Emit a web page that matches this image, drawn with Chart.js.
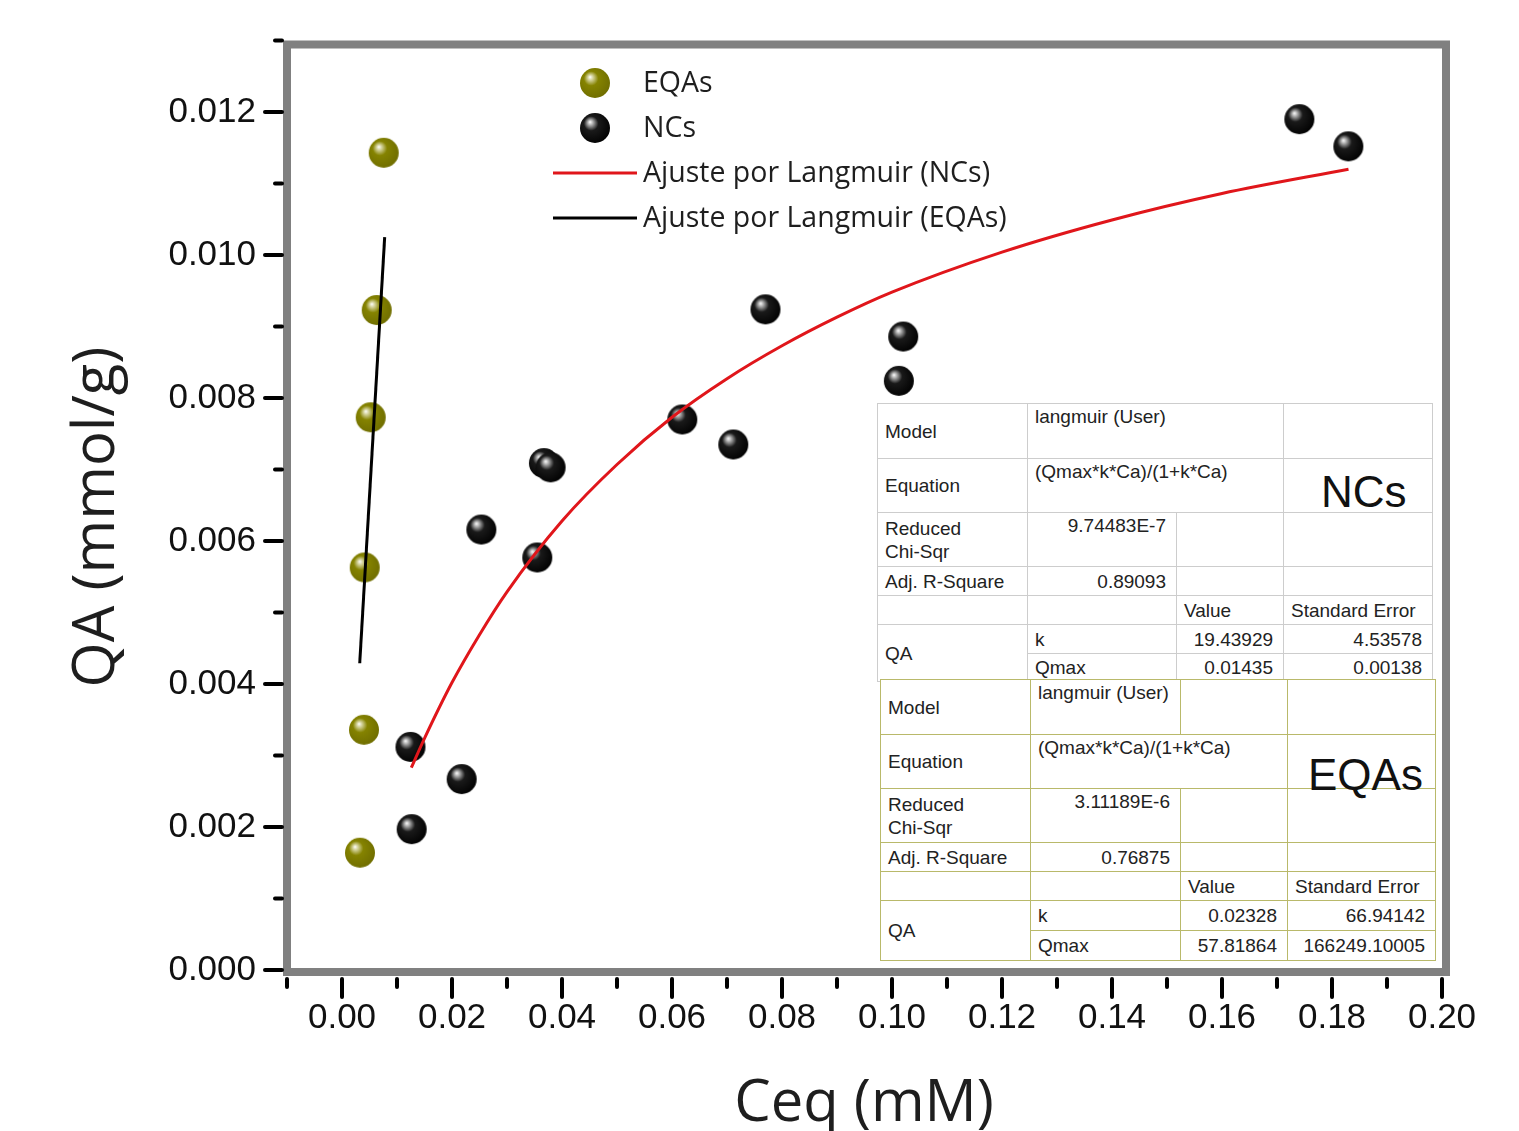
<!DOCTYPE html>
<html>
<head>
<meta charset="utf-8">
<script src="https://cdn.jsdelivr.net/npm/chart.js@4.4.1/dist/chart.umd.min.js"></script>
<style>
  body { margin: 0; background: #fff; }
  #wrap { position: relative; width: 1519px; height: 1131px; overflow: hidden; }
  .fit { position: absolute; border-collapse: collapse; table-layout: fixed; background: #fff;
         font-family: "Liberation Sans", Arial, sans-serif; font-size: 19px; color: #222; }
  .fit td { padding: 0 7px; line-height: 23px; vertical-align: middle; white-space: nowrap; overflow: visible; }
  .nc td { border: 1.5px solid #cdcdcd; }
  .eq td { border: 1.5px solid #b9b96a; }
  .fit td.t { vertical-align: top; padding-top: 1px; }
  .fit td.r { text-align: right; padding-right: 10px; }
  .big { position: absolute; font-family: "Liberation Sans", Arial, sans-serif; font-size: 44px;
         line-height: 44px; color: #111; }
</style>
</head>
<body>
<div id="wrap">
  <canvas id="isoChart"></canvas>

  <table class="fit nc" style="left:877px; top:403px; width:555px;">
    <colgroup><col style="width:150px"><col style="width:149px"><col style="width:107px"><col style="width:149px"></colgroup>
    <tr style="height:55px"><td>Model</td><td class="t" colspan="2">langmuir (User)</td><td></td></tr>
    <tr style="height:54px"><td>Equation</td><td class="t" colspan="2">(Qmax*k*Ca)/(1+k*Ca)</td><td></td></tr>
    <tr style="height:54px"><td>Reduced<br>Chi-Sqr</td><td class="t r">9.74483E-7</td><td></td><td></td></tr>
    <tr style="height:29px"><td>Adj. R-Square</td><td class="r">0.89093</td><td></td><td></td></tr>
    <tr style="height:29px"><td></td><td></td><td>Value</td><td>Standard Error</td></tr>
    <tr style="height:29px"><td rowspan="2">QA</td><td>k</td><td class="r">19.43929</td><td class="r">4.53578</td></tr>
    <tr style="height:28px"><td>Qmax</td><td class="r">0.01435</td><td class="r">0.00138</td></tr>
  </table>

  <table class="fit eq" style="left:880px; top:679px; width:555px;">
    <colgroup><col style="width:150px"><col style="width:150px"><col style="width:107px"><col style="width:148px"></colgroup>
    <tr style="height:55px"><td>Model</td><td class="t">langmuir (User)</td><td></td><td></td></tr>
    <tr style="height:54px"><td>Equation</td><td class="t" colspan="2">(Qmax*k*Ca)/(1+k*Ca)</td><td></td></tr>
    <tr style="height:54px"><td>Reduced<br>Chi-Sqr</td><td class="t r">3.11189E-6</td><td></td><td></td></tr>
    <tr style="height:29px"><td>Adj. R-Square</td><td class="r">0.76875</td><td></td><td></td></tr>
    <tr style="height:29px"><td></td><td></td><td>Value</td><td>Standard Error</td></tr>
    <tr style="height:30px"><td rowspan="2">QA</td><td>k</td><td class="r">0.02328</td><td class="r">66.94142</td></tr>
    <tr style="height:30px"><td>Qmax</td><td class="r">57.81864</td><td class="r">166249.10005</td></tr>
  </table>

  <div class="big" style="left:1321px; top:470px;">NCs</div>
  <div class="big" style="left:1308px; top:753px;">EQAs</div>
</div>

<script>
// EQAs (olive spheres)
const eqaX = [0.00758, 0.00631, 0.00522, 0.00413, 0.00400, 0.00327];
const eqaY = [0.01143, 0.00923, 0.00773, 0.00563, 0.00336, 0.00164];

// NCs (black spheres)
const ncX = [0.01245, 0.01267, 0.02176, 0.02534, 0.03551, 0.03671, 0.03793, 0.06187,
             0.07114, 0.07700, 0.10124, 0.10204, 0.17406, 0.18297];
const ncY = [0.00312, 0.00197, 0.00267, 0.00616, 0.00577, 0.00709, 0.00703, 0.00770,
             0.00735, 0.00924, 0.00824, 0.00886, 0.01190, 0.01152];

// Langmuir fit curves
const fitNcX = [0.0126, 0.015, 0.02, 0.025, 0.03, 0.04, 0.05, 0.06, 0.07, 0.08,
                0.09, 0.10, 0.12, 0.14, 0.16, 0.183];
const fitNcY = [0.00283, 0.00324, 0.00402, 0.00469, 0.00529, 0.00628, 0.00707, 0.00773,
                0.00827, 0.00873, 0.00913, 0.00948, 0.01004, 0.01049, 0.01086, 0.01120];
const fitEqaX = [0.00322, 0.00776];
const fitEqaY = [0.00429, 0.01025];

const xTicks = [0, 0.02, 0.04, 0.06, 0.08, 0.10, 0.12, 0.14, 0.16, 0.18, 0.20];
const xMinor = [-0.01, 0.01, 0.03, 0.05, 0.07, 0.09, 0.11, 0.13, 0.15, 0.17, 0.19];
const yTicks = [0, 0.002, 0.004, 0.006, 0.008, 0.010, 0.012];
const yMinor = [0.001, 0.003, 0.005, 0.007, 0.009, 0.011, 0.013];

const legendLabels = ["EQAs", "NCs", "Ajuste por Langmuir (NCs)", "Ajuste por Langmuir (EQAs)"];

const pairs = (xs, ys) => xs.map((x, i) => ({ x: x, y: ys[i] }));

// shiny ball marker
const makeBall = (light, base, dark) => {
  const c = document.createElement("canvas");
  c.width = 32;
  c.height = 32;
  const g = c.getContext("2d");
  const grad = g.createRadialGradient(11, 10, 0, 14, 14, 19);
  grad.addColorStop(0, "#ffffff");
  grad.addColorStop(0.12, light);
  grad.addColorStop(0.38, base);
  grad.addColorStop(1, dark);
  g.fillStyle = grad;
  g.beginPath();
  g.arc(16, 16, 15, 0, Math.PI * 2);
  g.fill();
  return c;
};
const oliveBall = makeBall("#d9d8a6", "#858300", "#6e6c00");
const blackBall = makeBall("#b8b8b8", "#1a1a1a", "#000000");

const frameAndLegend = {
  id: "frameAndLegend",
  afterDraw(chart) {
    const ctx = chart.ctx;
    const a = chart.chartArea;
    const xs = chart.scales.x;
    const ys = chart.scales.y;
    ctx.save();

    // grey frame
    ctx.strokeStyle = "#808080";
    ctx.lineWidth = 8;
    ctx.strokeRect(a.left, a.top + 4, a.right - a.left + 4, a.bottom - a.top - 2);

    // ticks
    ctx.strokeStyle = "#000";
    ctx.lineWidth = 4;
    ctx.lineCap = "round";
    const tick = (x1, y1, x2, y2) => {
      ctx.beginPath();
      ctx.moveTo(x1, y1);
      ctx.lineTo(x2, y2);
      ctx.stroke();
    };
    yTicks.forEach((v) => { const p = ys.getPixelForValue(v); tick(a.left - 22, p, a.left - 5, p); });
    yMinor.forEach((v) => { const p = ys.getPixelForValue(v); tick(a.left - 12, p, a.left - 5, p); });
    xTicks.forEach((v) => { const p = xs.getPixelForValue(v); tick(p, a.bottom + 9, p, a.bottom + 27); });
    xMinor.forEach((v) => { const p = xs.getPixelForValue(v); tick(p, a.bottom + 9, p, a.bottom + 17); });

    // legend
    ctx.lineCap = "butt";
    ctx.font = '28.5px "Open Sans"';
    ctx.fillStyle = "#1e1e1e";
    ctx.textBaseline = "middle";
    ctx.textAlign = "left";
    const rows = [83, 128, 173, 218];
    ctx.drawImage(oliveBall, 595 - 16, rows[0] - 16);
    ctx.drawImage(blackBall, 595 - 16, rows[1] - 16);
    ctx.lineWidth = 3;
    ctx.strokeStyle = chart.data.datasets[0].borderColor;
    tick(553, rows[2], 637, rows[2]);
    ctx.strokeStyle = chart.data.datasets[1].borderColor;
    tick(553, rows[3], 637, rows[3]);
    legendLabels.forEach((t, i) => ctx.fillText(t, 643, rows[i] + 1));

    // axis titles
    ctx.font = '58px "Open Sans"';
    ctx.fillStyle = "#1e1e1e";
    ctx.textAlign = "center";
    ctx.fillText("Ceq (mM)", 864, 1104);
    ctx.translate(97, 517);
    ctx.rotate(-Math.PI / 2);
    ctx.fillText("QA (mmol/g)", 0, 0);
    ctx.restore();
  },
};

new Chart("isoChart", {
  type: "scatter",
  data: {
    datasets: [
      {
        label: legendLabels[2],
        data: pairs(fitNcX, fitNcY),
        showLine: true,
        borderColor: "#e0161b",
        borderWidth: 3,
        pointRadius: 0,
        cubicInterpolationMode: "monotone",
        order: 0,
      },
      {
        label: legendLabels[3],
        data: pairs(fitEqaX, fitEqaY),
        showLine: true,
        borderColor: "#000000",
        borderWidth: 3,
        pointRadius: 0,
        order: 0,
      },
      {
        label: legendLabels[0],
        data: pairs(eqaX, eqaY),
        pointStyle: oliveBall,
        order: 1,
      },
      {
        label: legendLabels[1],
        data: pairs(ncX, ncY),
        pointStyle: blackBall,
        order: 1,
      },
    ],
  },
  options: {
    animation: false,
    responsive: true,
    maintainAspectRatio: false,
    layout: { padding: { left: 0, top: 40.5, right: 77, bottom: 0 } },
    plugins: { legend: { display: false }, tooltip: { enabled: false } },
    scales: {
      x: {
        type: "linear",
        min: -0.01,
        max: 0.2,
        afterBuildTicks: (s) => { s.ticks = xTicks.map((v) => ({ value: v })); },
        afterFit: (s) => { s.height = 161; s.paddingLeft = 0; s.paddingRight = 0; },
        grid: { display: false, drawTicks: false },
        border: { display: false },
        ticks: {
          callback: (v) => Number(v).toFixed(2),
          font: { family: "Liberation Sans", size: 35 },
          color: "#111",
          padding: 27,
          maxRotation: 0,
          autoSkip: false,
        },
      },
      y: {
        type: "linear",
        min: 0,
        max: 0.013,
        afterBuildTicks: (s) => { s.ticks = yTicks.map((v) => ({ value: v })); },
        afterFit: (s) => { s.width = 287; s.paddingTop = 0; s.paddingBottom = 0; },
        grid: { display: false, drawTicks: false },
        border: { display: false },
        ticks: {
          callback: (v) => Number(v).toFixed(3),
          font: { family: "Liberation Sans", size: 35 },
          color: "#111",
          padding: 31,
          autoSkip: false,
        },
      },
    },
  },
  plugins: [frameAndLegend],
});
</script>
</body>
</html>
